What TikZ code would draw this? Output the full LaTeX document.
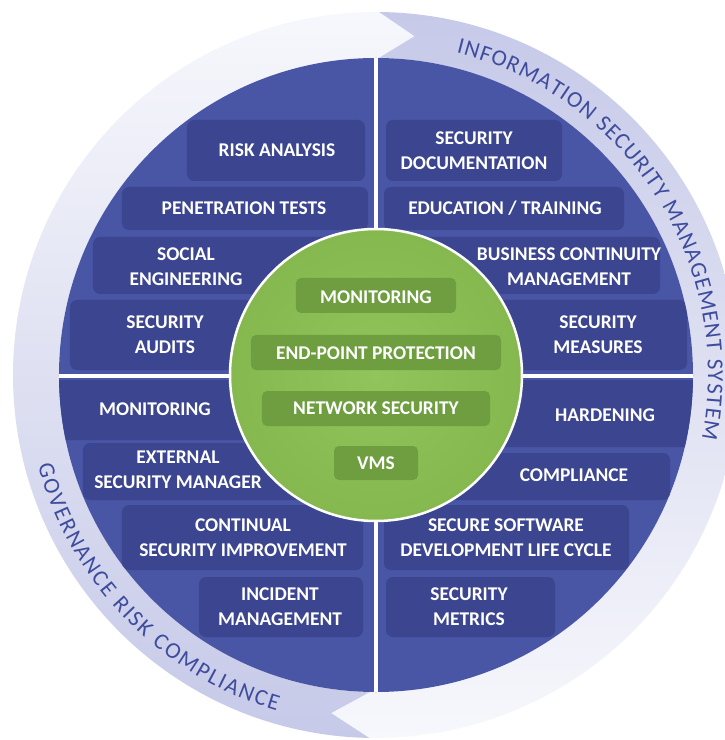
\documentclass[tikz,border=0pt]{standalone}
\usepackage{fontspec}
\setmainfont{Carlito}
\newfontfamily\ringfont{Carlito}
\usepackage{tikz}
\usetikzlibrary{decorations.text}
\definecolor{diskblue}{RGB}{73,85,165}
\definecolor{boxblue}{RGB}{60,70,144}
\definecolor{diskgreen}{RGB}{134,184,80}
\definecolor{diskgreenin}{RGB}{146,196,92}
\definecolor{boxgreen}{RGB}{110,158,64}
\definecolor{ringlav}{RGB}{198,201,232}
\definecolor{ringwhite}{RGB}{247,248,252}
\definecolor{ringtext}{RGB}{62,76,158}
\def\RBlue{317}
\def\RGreen{146}
\def\ROuter{363}
\def\RTip{341}

\begin{document}
\begin{tikzpicture}[x=1bp,y=1bp,
		bluebox/.style={fill=boxblue,rounded corners=7bp},
		greenbox/.style={fill=boxgreen,rounded corners=5bp},
		itemtext/.style={text=white,font=\bfseries\fontsize{19.5}{25}\selectfont,align=center,inner sep=0pt},
		ringlabel/.style={decorate,decoration={text along path,text color=ringtext,text align={fit to path}}}]
			\useasboundingbox (-376,-365) rectangle (349,375);
			% ring arrows
			\shade[top color=ringwhite,bottom color=ringlav] (269:\RBlue) arc[start angle=269,end angle=89.5,radius=\RBlue] -- (83.5:\RTip) -- (89.5:\ROuter) arc[start angle=89.5,end angle=269,radius=\ROuter] -- (262.5:\RTip) -- cycle;
			\shade[top color=ringlav,bottom color=ringwhite] (89.5:\ROuter) arc[start angle=89.5,end angle=-91,radius=\ROuter] -- (-97.5:\RTip) -- (-91:\RBlue) arc[start angle=-91,end angle=89.5,radius=\RBlue] -- (83.5:\RTip) -- cycle;
			\path[ringlabel,decoration={text={|\ringfont\fontsize{23}{26}\selectfont|INFORMATION SECURITY MANAGEMENT SYSTEM}}] (76:332) arc[start angle=76,end angle=-11,radius=332];
			\path[ringlabel,decoration={text={|\ringfont\fontsize{23}{26}\selectfont|GOVERNANCE RISK COMPLIANCE}}] (195:350) arc[start angle=195,end angle=253.5,radius=350];
			% 
			\fill[diskblue] (0,0) circle[radius=\RBlue];
			\begin{scope}
				\clip (0,0) circle[radius=\RBlue];
				\fill[bluebox] (-189,194) rectangle (-11,255);
				\fill[bluebox] (-254,145) rectangle (-8,188);
				\fill[bluebox] (-283,81) rectangle (-40,138);
				\fill[bluebox] (-306,5) rectangle (-40,75);
				\fill[bluebox] (10,194) rectangle (186,255);
				\fill[bluebox] (8,145) rectangle (248,188);
				\fill[bluebox] (40,81) rectangle (284,138);
				\fill[bluebox] (40,5) rectangle (311,75);
				% 
				\fill[bluebox] (-330,-65) rectangle (-40,-5);
				\fill[bluebox] (-293,-125) rectangle (-40,-68);
				\fill[bluebox] (-254,-195) rectangle (-13,-130);
				\fill[bluebox] (-177,-262) rectangle (-13,-202);
				\fill[bluebox] (40,-72) rectangle (330,-5);
				\fill[bluebox] (40,-125) rectangle (294,-78);
				\fill[bluebox] (8,-195) rectangle (253,-130);
				\fill[bluebox] (10,-262) rectangle (179,-202);
			\end{scope}
			\draw[white,line width=4bp] (0,\RBlue) -- (0,-\RBlue);
			\draw[white,line width=3.5bp] (-\RBlue,-1) -- (\RBlue,-1);
			% 
			\shade[inner color=diskgreenin,outer color=diskgreen] (0,0) circle[radius=\RGreen];
			\draw[white,line width=2.5bp] (0,0) circle[radius=\RGreen];
			\fill[greenbox] (-80,62) rectangle (80,97);
			\fill[greenbox] (-125,5) rectangle (125,40);
			\fill[greenbox] (-114,-51) rectangle (114,-16);
			\fill[greenbox] (-42,-105) rectangle (42,-71);
			\node[itemtext] at (0,78) (g1) {MONITORING};
			\node[itemtext] at (0,22) (g2) {END-POINT PROTECTION};
			\node[itemtext] at (0,-33) (g3) {NETWORK SECURITY};
			\node[itemtext] at (0,-88) (g4) {VMS};
			% 
			\node[itemtext] at (-99,225) (ul1) {RISK ANALYSIS};
			\node[itemtext] at (-132,167) (ul2) {PENETRATION TESTS};
			\node[itemtext] at (-190,108) (ul3) {SOCIAL\\ENGINEERING};
			\node[itemtext] at (-211,40) (ul4) {SECURITY\\AUDITS};
			\node[itemtext] at (98,224) (ur1) {SECURITY\\DOCUMENTATION};
			\node[itemtext] at (129,167) (ur2) {EDUCATION / TRAINING};
			\node[itemtext] at (193,108) (ur3) {BUSINESS CONTINUITY\\MANAGEMENT};
			\node[itemtext] at (222,40) (ur4) {SECURITY\\MEASURES};
			\node[itemtext] at (-221,-34) (ll1) {MONITORING};
			\node[itemtext] at (-198,-95) (ll2) {EXTERNAL\\SECURITY MANAGER};
			\node[itemtext] at (-133,-163) (ll3) {CONTINUAL\\SECURITY IMPROVEMENT};
			\node[itemtext] at (-96,-232) (ll4) {INCIDENT\\MANAGEMENT};
			\node[itemtext] at (229,-40) (lr1) {HARDENING};
			\node[itemtext] at (198,-100) (lr2) {COMPLIANCE};
			\node[itemtext] at (130,-163) (lr3) {SECURE SOFTWARE\\DEVELOPMENT LIFE CYCLE};
			\node[itemtext] at (93,-232) (lr4) {SECURITY\\METRICS};
		\end{tikzpicture}
\end{document}
